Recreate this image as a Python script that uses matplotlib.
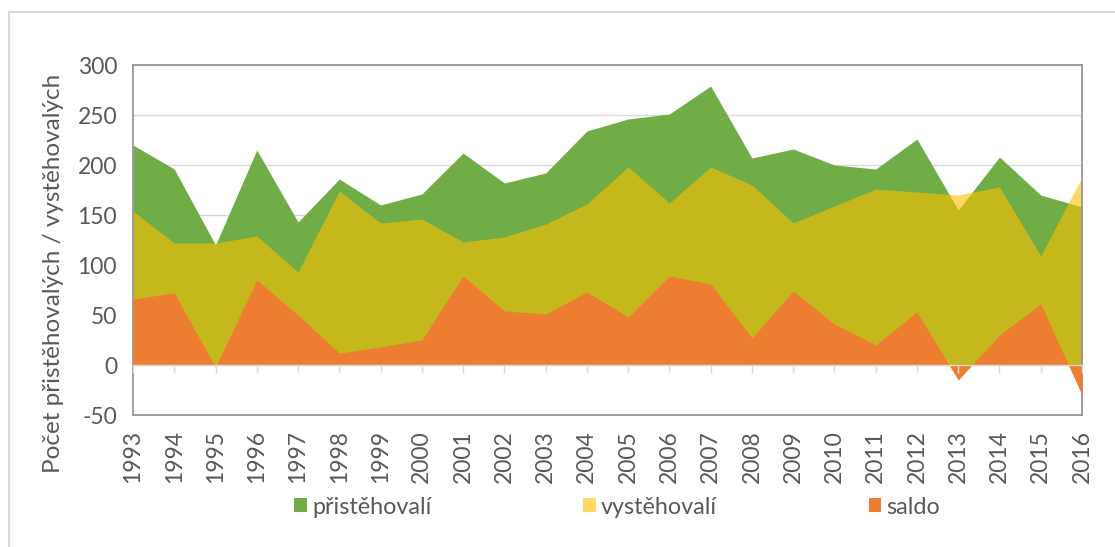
import matplotlib

matplotlib.use("Agg")

import matplotlib.pyplot as plt
from matplotlib.patches import Patch, Rectangle

# data
years = list(range(1993, 2017))
pristehovali = [220, 196, 120, 215, 143, 186, 160, 171, 212, 182, 192, 234,
                246, 251, 279, 207, 216, 200, 196, 226, 155, 208, 170, 158]
vystehovali = [154, 122, 122, 129, 93, 174, 142, 146, 123, 128, 141, 161,
               198, 162, 198, 180, 142, 159, 176, 173, 170, 178, 109, 188]
saldo = [66, 72, -2, 85, 50, 12, 18, 25, 89, 54, 51, 73,
         48, 89, 81, 27, 74, 41, 20, 53, -15, 30, 61, -30]
y_ticks = [-50, 0, 50, 100, 150, 200, 250, 300]

GREEN = "#70AD47"
YELLOW = "#FFC000"
ORANGE = "#ED7D31"
TEXT = "#595959"
GRID = "#D9D9D9"

plt.rcParams["font.family"] = ["Lato", "DejaVu Sans"]
plt.rcParams["axes.unicode_minus"] = False

W, H = 1115, 547
fig = plt.figure(figsize=(W / 100, H / 100), dpi=100)
ax = fig.add_axes([133 / W, 1 - 415 / H, (1082 - 133) / W, 350 / H])

ax.fill_between(years, 0, pristehovali, color=GREEN, lw=0, zorder=1)
ax.fill_between(years, 0, vystehovali, color=YELLOW, alpha=0.6, lw=0, zorder=2)
ax.fill_between(years, 0, saldo, color=ORANGE, lw=0, zorder=3)

ax.set_xlim(years[0], years[-1])
ax.set_ylim(y_ticks[0], y_ticks[-1])
ax.set_yticks(y_ticks)
ax.set_xticks(years)
ax.set_xticklabels([str(y) for y in years], rotation=90)
ax.tick_params(axis="both", length=0, labelsize=16.5, labelcolor=TEXT)
ax.tick_params(axis="y", pad=11.5)
ax.tick_params(axis="x", pad=11)
ax.grid(axis="y", color=GRID, lw=1)
ax.set_axisbelow(True)
for spine in ax.spines.values():
    spine.set_color("#969696")
    spine.set_linewidth(1.3)

# category axis sits on the zero line
zero_axis = ax.secondary_xaxis(0, transform=ax.transData)
zero_axis.set_xticks(years)
zero_axis.tick_params(axis="x", direction="out", length=6, width=1,
                      color=GRID, labelbottom=False)
zero_axis.spines["bottom"].set_color(GRID)
zero_axis.spines["bottom"].set_linewidth(1)
zero_axis.set_zorder(5)

fig.text(54 / W, 1 - 273.5 / H, "Počet přistěhovalých / vystěhovalých",
         rotation=90, ha="center", va="center", fontsize=17.5, color=TEXT)

handles = [
    Patch(facecolor=GREEN, edgecolor="none", label="přistěhovalí"),
    Patch(facecolor=YELLOW, alpha=0.6, edgecolor="none", label="vystěhovalí"),
    Patch(facecolor=ORANGE, edgecolor="none", label="saldo"),
]
fig.legend(handles=handles, loc="center left", bbox_to_anchor=(294 / W, 1 - 507 / H),
           ncol=3, frameon=False, fontsize=16.8, labelcolor=TEXT,
           handlelength=0.55, handleheight=0.55, handletextpad=0.22,
           columnspacing=6.5, borderpad=0, borderaxespad=0)

# light outer chart frame, cut off at right and bottom in the original
fig.patches.append(Rectangle((9 / W, -0.1), 1.2, 1.1 - 12 / H, transform=fig.transFigure,
                             fill=False, edgecolor=GRID, lw=1.5))

fig.savefig("out.png", dpi=100)
